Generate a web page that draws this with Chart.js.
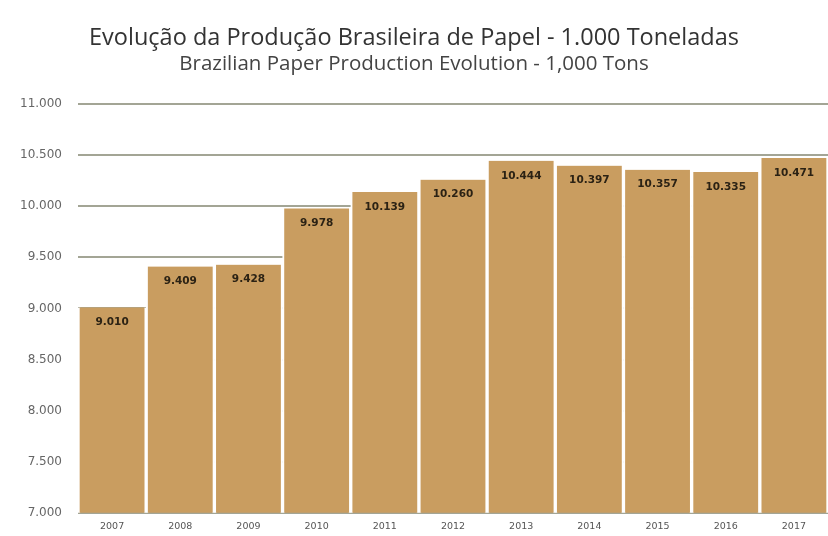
<!DOCTYPE html>
<html>
<head>
<meta charset="utf-8">
<script src="https://cdn.jsdelivr.net/npm/chart.js@4/dist/chart.umd.min.js"></script>
<style>
  html, body { margin: 0; padding: 0; background: #fff; }
  #wrap { width: 828px; height: 536px; }
</style>
</head>
<body>
<div id="wrap"><canvas id="paperChart" width="828" height="536"></canvas></div>
<script>
// ── DATA ────────────────────────────────────────────────────────────────────
const years = ["2007", "2008", "2009", "2010", "2011", "2012", "2013", "2014", "2015", "2016", "2017"];
const production = [9010, 9409, 9428, 9978, 10139, 10260, 10444, 10397, 10357, 10335, 10471];
const yTicks = [7000, 7500, 8000, 8500, 9000, 9500, 10000, 10500, 11000];

// pt-BR style thousands: 10.444
function fmt(v) {
  return String(v).replace(/\B(?=(\d{3})+(?!\d))/g, ".");
}

// ── VALUE LABELS INSIDE BARS ────────────────────────────────────────────────
const barLabels = {
  id: "barLabels",
  afterDatasetsDraw(chart) {
    const ctx = chart.ctx;
    const meta = chart.getDatasetMeta(0);
    ctx.save();
    ctx.fillStyle = "#2b2214";
    ctx.font = "bold 10.5px 'DejaVu Sans', sans-serif";
    ctx.textAlign = "center";
    ctx.textBaseline = "middle";
    meta.data.forEach((bar, i) => {
      ctx.fillText(fmt(production[i]), bar.x, bar.y + 15);
    });
    ctx.restore();
  }
};

// ── CHART ───────────────────────────────────────────────────────────────────
const ctx = document.getElementById("paperChart").getContext("2d");
new Chart(ctx, {
  type: "bar",
  data: {
    labels: years,
    datasets: [{
      data: production,
      backgroundColor: "#c99d60",
      // white side borders make the gaps and hide gridlines between bars
      borderColor: "#ffffff",
      borderWidth: { left: 2, right: 2, top: 0, bottom: 0 },
      borderSkipped: false,
      barPercentage: 1.0,
      categoryPercentage: 1.0
    }]
  },
  options: {
    responsive: false,
    animation: false,
    layout: { padding: { left: 0, right: 0, top: 0, bottom: 0 } },
    plugins: {
      legend: { display: false },
      tooltip: { enabled: false },
      title: {
        display: true,
        text: "Evolução da Produção Brasileira de Papel - 1.000 Toneladas",
        color: "#333333",
        font: { family: "'Open Sans', sans-serif", size: 23.5, weight: "normal", lineHeight: 1 },
        padding: { top: 27, bottom: 3 }
      },
      subtitle: {
        display: true,
        text: "Brazilian Paper Production Evolution - 1,000 Tons",
        color: "#444444",
        font: { family: "'Open Sans', sans-serif", size: 20.5, weight: "normal", lineHeight: 1 },
        padding: { top: 0, bottom: 30 }
      }
    },
    scales: {
      x: {
        grid: { display: false, drawTicks: false },
        border: { display: false },
        ticks: {
          color: "#555555",
          font: { family: "'DejaVu Sans', sans-serif", size: 9.5 },
          padding: 8,
          maxRotation: 0
        },
        afterFit(scale) { scale.height = 23; }
      },
      y: {
        min: 7000,
        max: 11000,
        grid: { color: "#a3a595", lineWidth: 2, drawTicks: false },
        border: { display: false },
        afterBuildTicks(scale) { scale.ticks = yTicks.map(v => ({ value: v })); },
        ticks: {
          color: "#666666",
          font: { family: "'DejaVu Sans', sans-serif", size: 12 },
          padding: 16,
          callback: v => fmt(v)
        },
        afterFit(scale) { scale.width = 78; }
      }
    }
  },
  plugins: [barLabels]
});
</script>
</body>
</html>
